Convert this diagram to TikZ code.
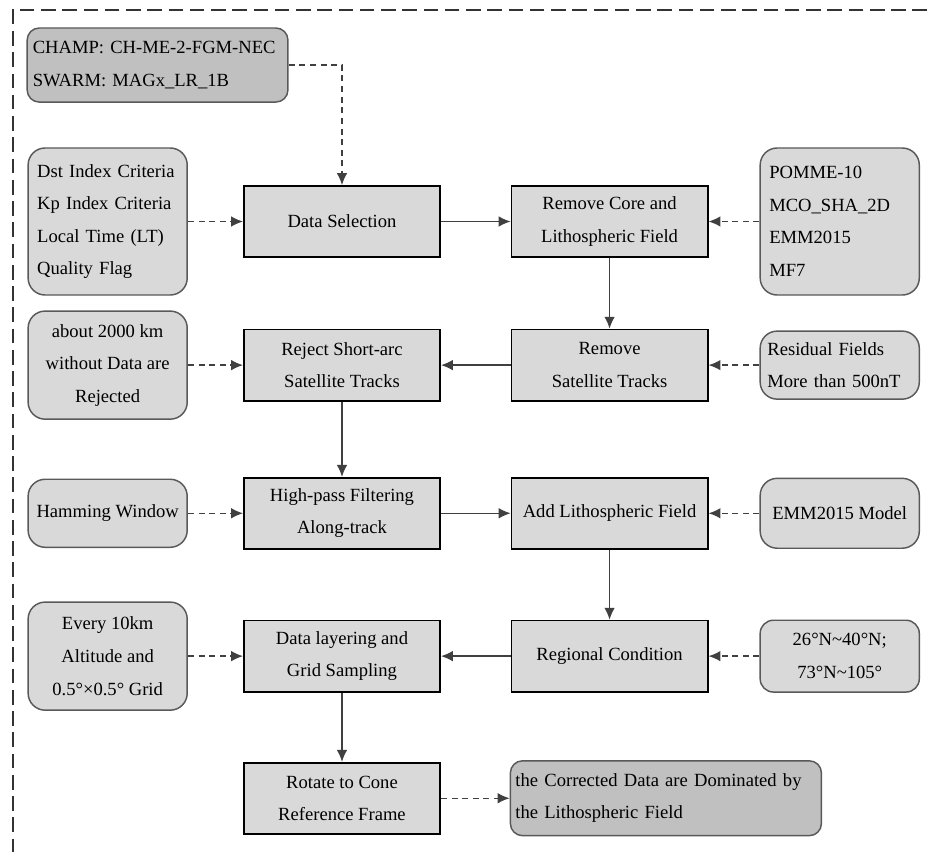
\documentclass[tikz,border=0pt]{standalone}
\usepackage{fontspec}
\setmainfont{Liberation Serif}
\usetikzlibrary{positioning, arrows.meta}
\definecolor{boxgray}{HTML}{D9D9D9}
\definecolor{boxdark}{HTML}{C0C0C0}
\definecolor{linegray}{HTML}{404040}
\tikzset{
	proc/.style={draw, rectangle, line width=1.3pt, inner sep=2pt, minimum width=5.19cm, minimum height=1.88cm, fill=boxgray, align=center, font=\fontsize{14}{24.5}\selectfont},
	cond/.style={draw=black!65, rectangle, rounded corners=0.45cm, line width=1.1pt, inner sep=2pt, minimum width=4.21cm, fill=boxgray, align=center, font=\fontsize{14}{24.5}\selectfont},
	% dark boxes: input data and result
	src/.style={cond, rounded corners=0.32cm, fill=boxdark},
}

\begin{document}
\begin{tikzpicture}
			\useasboundingbox (-9.049,5.861) rectangle (15.479,-16.683);
			\draw[dash pattern=on 11pt off 5pt, line width=1.1pt, black!80] (15.479,5.596) -- (-8.705,5.596) -- (-8.705,-16.683);
			
			\node (dsel) [proc] {Data Selection};
			\node (rcore) [proc, right of=dsel, xshift=6.08cm] {Remove Core and\\Lithospheric Field};
			\node (mods) [cond, right of=rcore, xshift=5.09cm, minimum height=3.89cm, text width=3.73cm, align=left] {POMME-10\\MCO\_SHA\_2D\\EMM2015\\MF7};
			\node (crit) [cond, left of=dsel, xshift=-5.2cm, minimum height=3.89cm, text width=3.73cm, align=left] {Dst Index Criteria\\Kp Index Criteria\\Local Time (LT)\\Quality Flag};
			\node (data) [src, left of=dsel, xshift=-3.88cm, yshift=4.14cm, minimum width=6.9cm, minimum height=1.96cm, text width=6.6cm, align=left] {CHAMP: CH-ME-2-FGM-NEC\\SWARM: MAGx\_LR\_1B};
			
			\node (rsat) [proc, below of=rcore, yshift=-2.8cm] {Remove\\Satellite Tracks};
			\node (resid) [cond, right of=rsat, xshift=5.09cm, minimum height=1.8cm, text width=3.83cm, align=left] {Residual Fields\\More than 500nT};
			\node (rej) [proc, below of=dsel, yshift=-2.8cm] {Reject Short-arc\\Satellite Tracks};
			\node (gap) [cond, left of=rej, xshift=-5.2cm, minimum height=2.86cm] {about 2000 km\\without Data are\\Rejected};
			
			\node (hpf) [proc, below of=rej, yshift=-2.92cm] {High-pass Filtering\\Along-track};
			\node (ham) [cond, left of=hpf, xshift=-5.2cm, minimum height=1.8cm] {Hamming Window};
			\node (alith) [proc, below of=rsat, yshift=-2.92cm] {Add Lithospheric Field};
			\node (emm) [cond, right of=alith, xshift=5.09cm, minimum height=1.85cm] {EMM2015 Model};
			
			\node (reg) [proc, below of=alith, yshift=-2.78cm] {Regional Condition};
			\node (area) [cond, right of=reg, xshift=5.09cm, minimum height=1.9cm, rounded corners=0.35cm] {26°N\textasciitilde 40°N;\\73°N\textasciitilde 105°};
			\node (grid) [proc, below of=hpf, yshift=-2.78cm] {Data layering and\\Grid Sampling};
			\node (samp) [cond, left of=grid, xshift=-5.2cm, minimum height=2.86cm] {Every 10km\\Altitude and\\0.5°×0.5° Grid};
			
			\node (rot) [proc, below of=grid, yshift=-2.76cm] {Rotate to Cone\\Reference Frame};
			\node (res) [src, right of=rot, xshift=7.57cm, minimum width=8.23cm, minimum height=1.98cm, text width=7.96cm, align=left] {\makebox[7.96cm][s]{the Corrected Data are Dominated by}\\the Lithospheric Field};
			
			\begin{scope}[line width=1.1pt, linegray, -{Latex[length=9pt, width=8pt]}]
				\draw (dsel) -- (rcore);
				\draw (rcore) -- (rsat);
				\draw (rsat) -- (rej);
				\draw (rej) -- (hpf);
				\draw (hpf) -- (alith);
				\draw (alith) -- (reg);
				\draw (reg) -- (grid);
				\draw (grid) -- (rot);
				
				\begin{scope}[dash pattern=on 4.5pt off 3.5pt]
					\draw (data) -| (dsel);
					\draw (crit) -- (dsel);
					\draw (mods) -- (rcore);
					\draw (resid) -- (rsat);
					\draw (gap) -- (rej);
					\draw (ham) -- (hpf);
					\draw (emm) -- (alith);
					\draw (area) -- (reg);
					\draw (samp) -- (grid);
					\draw (rot) -- (res);
				\end{scope}
			\end{scope}
		\end{tikzpicture}
\end{document}
